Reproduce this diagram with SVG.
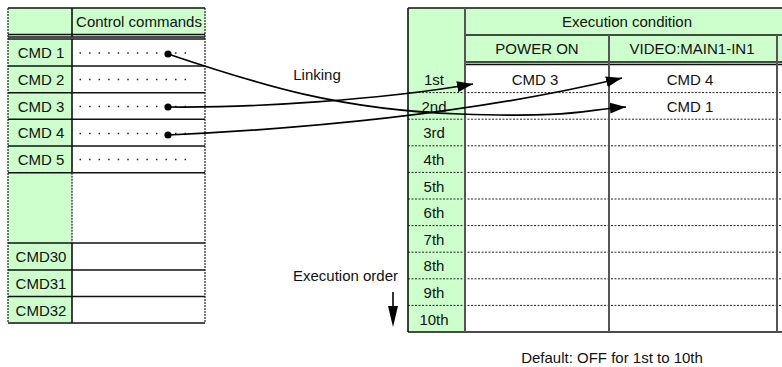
<svg xmlns="http://www.w3.org/2000/svg" width="782" height="367" viewBox="0 0 782 367">
<style>
text{font-family:"Liberation Sans",Arial,sans-serif;font-size:15px;fill:#111}
.m{text-anchor:middle}
.g{fill:#ccffcc}
.w{fill:#ffffff}
.s{stroke:#111;stroke-width:1.6;fill:none}
.gr{stroke:#555;stroke-width:2;fill:none}
.dt{stroke:#222;stroke-width:1.2;stroke-dasharray:2 1;fill:none}
.hd{stroke:#222;stroke-width:1;stroke-dasharray:2 1.5;fill:none}
.pt{stroke:#222;stroke-width:1.5;stroke-dasharray:1.5 8.05;fill:none}
.c{stroke:#000;stroke-width:1.7;fill:none;marker-end:url(#ah)}
</style>
<defs>
<marker id="ah" markerUnits="userSpaceOnUse" markerWidth="16" markerHeight="11" refX="16" refY="5.5" orient="auto">
<path d="M0,0 L16,5.5 L0,11 z" fill="#000"/>
</marker>
</defs>
<rect width="782" height="367" fill="#fff"/>

<g id="left-table">
<rect class="g" x="8" y="8" width="197" height="28"/>
<rect class="g" x="8" y="39" width="64" height="284"/>
<rect class="w" x="72" y="39" width="133" height="284"/>
<line class="s" x1="8" y1="8" x2="205" y2="8"/>
<line class="s" x1="8" y1="34.5" x2="205" y2="34.5"/>
<line class="s" x1="8" y1="37" x2="205" y2="37"/>
<line class="s" x1="72" y1="8" x2="72" y2="37"/>
<line class="s" x1="8" y1="39" x2="205" y2="39"/>
<line class="s" x1="8" y1="66" x2="205" y2="66"/>
<line class="s" x1="8" y1="92.7" x2="205" y2="92.7"/>
<line class="s" x1="8" y1="119.3" x2="205" y2="119.3"/>
<line class="s" x1="8" y1="146" x2="205" y2="146"/>
<line class="s" x1="8" y1="172.7" x2="205" y2="172.7"/>
<line class="s" x1="8" y1="243" x2="205" y2="243"/>
<line class="s" x1="8" y1="270" x2="205" y2="270"/>
<line class="s" x1="8" y1="296.5" x2="205" y2="296.5"/>
<line class="s" x1="8" y1="323" x2="205" y2="323"/>
<line class="s" x1="72" y1="39" x2="72" y2="172.7"/>
<line class="dt" x1="72" y1="172.7" x2="72" y2="243"/>
<line class="s" x1="72" y1="243" x2="72" y2="323"/>
<line class="dt" x1="8" y1="8" x2="8" y2="323"/>
<line class="dt" x1="205" y1="8" x2="205" y2="323"/>
<text class="m" x="139" y="27">Control commands</text>
<text class="m" x="41" y="58.3">CMD 1</text>
<text class="m" x="41" y="85">CMD 2</text>
<text class="m" x="41" y="111.7">CMD 3</text>
<text class="m" x="41" y="138.3">CMD 4</text>
<text class="m" x="41" y="165">CMD 5</text>
<text class="m" x="41" y="262.3">CMD30</text>
<text class="m" x="41" y="289">CMD31</text>
<text class="m" x="41" y="315.5">CMD32</text>
<line class="pt" x1="79.5" y1="53" x2="187" y2="53"/>
<line class="pt" x1="79.5" y1="79.5" x2="187" y2="79.5"/>
<line class="pt" x1="79.5" y1="106.5" x2="187" y2="106.5"/>
<line class="pt" x1="79.5" y1="133.5" x2="187" y2="133.5"/>
<line class="pt" x1="79.5" y1="159.5" x2="187" y2="159.5"/>
</g>

<g id="right-table">
<rect class="g" x="408" y="8" width="374" height="56"/>
<rect class="g" x="408" y="64" width="57" height="268"/>
<rect class="w" x="465" y="65" width="317" height="267"/>
<line class="s" x1="408" y1="8" x2="782" y2="8"/>
<line class="s" x1="465" y1="35" x2="782" y2="35"/>
<line class="s" x1="465" y1="62" x2="782" y2="62"/>
<line class="s" x1="465" y1="64.5" x2="782" y2="64.5"/>
<line class="hd" x1="408" y1="92.6" x2="782" y2="92.6"/>
<line class="hd" x1="408" y1="119.2" x2="782" y2="119.2"/>
<line class="hd" x1="408" y1="145.8" x2="782" y2="145.8"/>
<line class="hd" x1="408" y1="172.4" x2="782" y2="172.4"/>
<line class="hd" x1="408" y1="199" x2="782" y2="199"/>
<line class="hd" x1="408" y1="225.6" x2="782" y2="225.6"/>
<line class="hd" x1="408" y1="252.2" x2="782" y2="252.2"/>
<line class="hd" x1="408" y1="278.8" x2="782" y2="278.8"/>
<line class="hd" x1="408" y1="305.4" x2="782" y2="305.4"/>
<line class="s" x1="408" y1="332" x2="782" y2="332"/>
<line class="s" x1="408" y1="8" x2="408" y2="332"/>
<line class="gr" x1="465" y1="8" x2="465" y2="332"/>
<line class="gr" x1="609" y1="35" x2="609" y2="332"/>
<line class="gr" x1="777" y1="35" x2="777" y2="332"/>
<text class="m" x="627" y="27">Execution condition</text>
<text class="m" x="537" y="54">POWER ON</text>
<text class="m" x="692" y="54">VIDEO:MAIN1-IN1</text>
<text class="m" x="434" y="85">1st</text>
<text class="m" x="434" y="111.7">2nd</text>
<text class="m" x="434" y="138.3">3rd</text>
<text class="m" x="434" y="164.9">4th</text>
<text class="m" x="434" y="191.5">5th</text>
<text class="m" x="434" y="218.1">6th</text>
<text class="m" x="434" y="244.7">7th</text>
<text class="m" x="434" y="271.3">8th</text>
<text class="m" x="434" y="297.9">9th</text>
<text class="m" x="434" y="324.5">10th</text>
<text class="m" x="535" y="85">CMD 3</text>
<text class="m" x="690" y="85">CMD 4</text>
<text class="m" x="690" y="111.7">CMD 1</text>
</g>

<g id="labels">
<text class="m" x="317" y="80">Linking</text>
<text class="m" x="345.5" y="281">Execution order</text>
<text class="m" x="612" y="363">Default: OFF for 1st to 10th</text>
<line x1="393" y1="292" x2="393" y2="310" stroke="#000" stroke-width="1.6"/>
<path d="M388,306 L398,306 L393,327 z" fill="#000"/>
</g>

<g id="connectors">
<path class="c" d="M168,54 C260,85 340,110 460,114 S580,110 626,107"/>
<path class="c" d="M168,107 C250,108 380,100 473,84"/>
<path class="c" d="M168,135 C320,128 480,112 622,78"/>
<circle cx="168" cy="54" r="3.6" fill="#000"/>
<circle cx="168" cy="107" r="3.6" fill="#000"/>
<circle cx="168" cy="135" r="3.6" fill="#000"/>
</g>
</svg>
